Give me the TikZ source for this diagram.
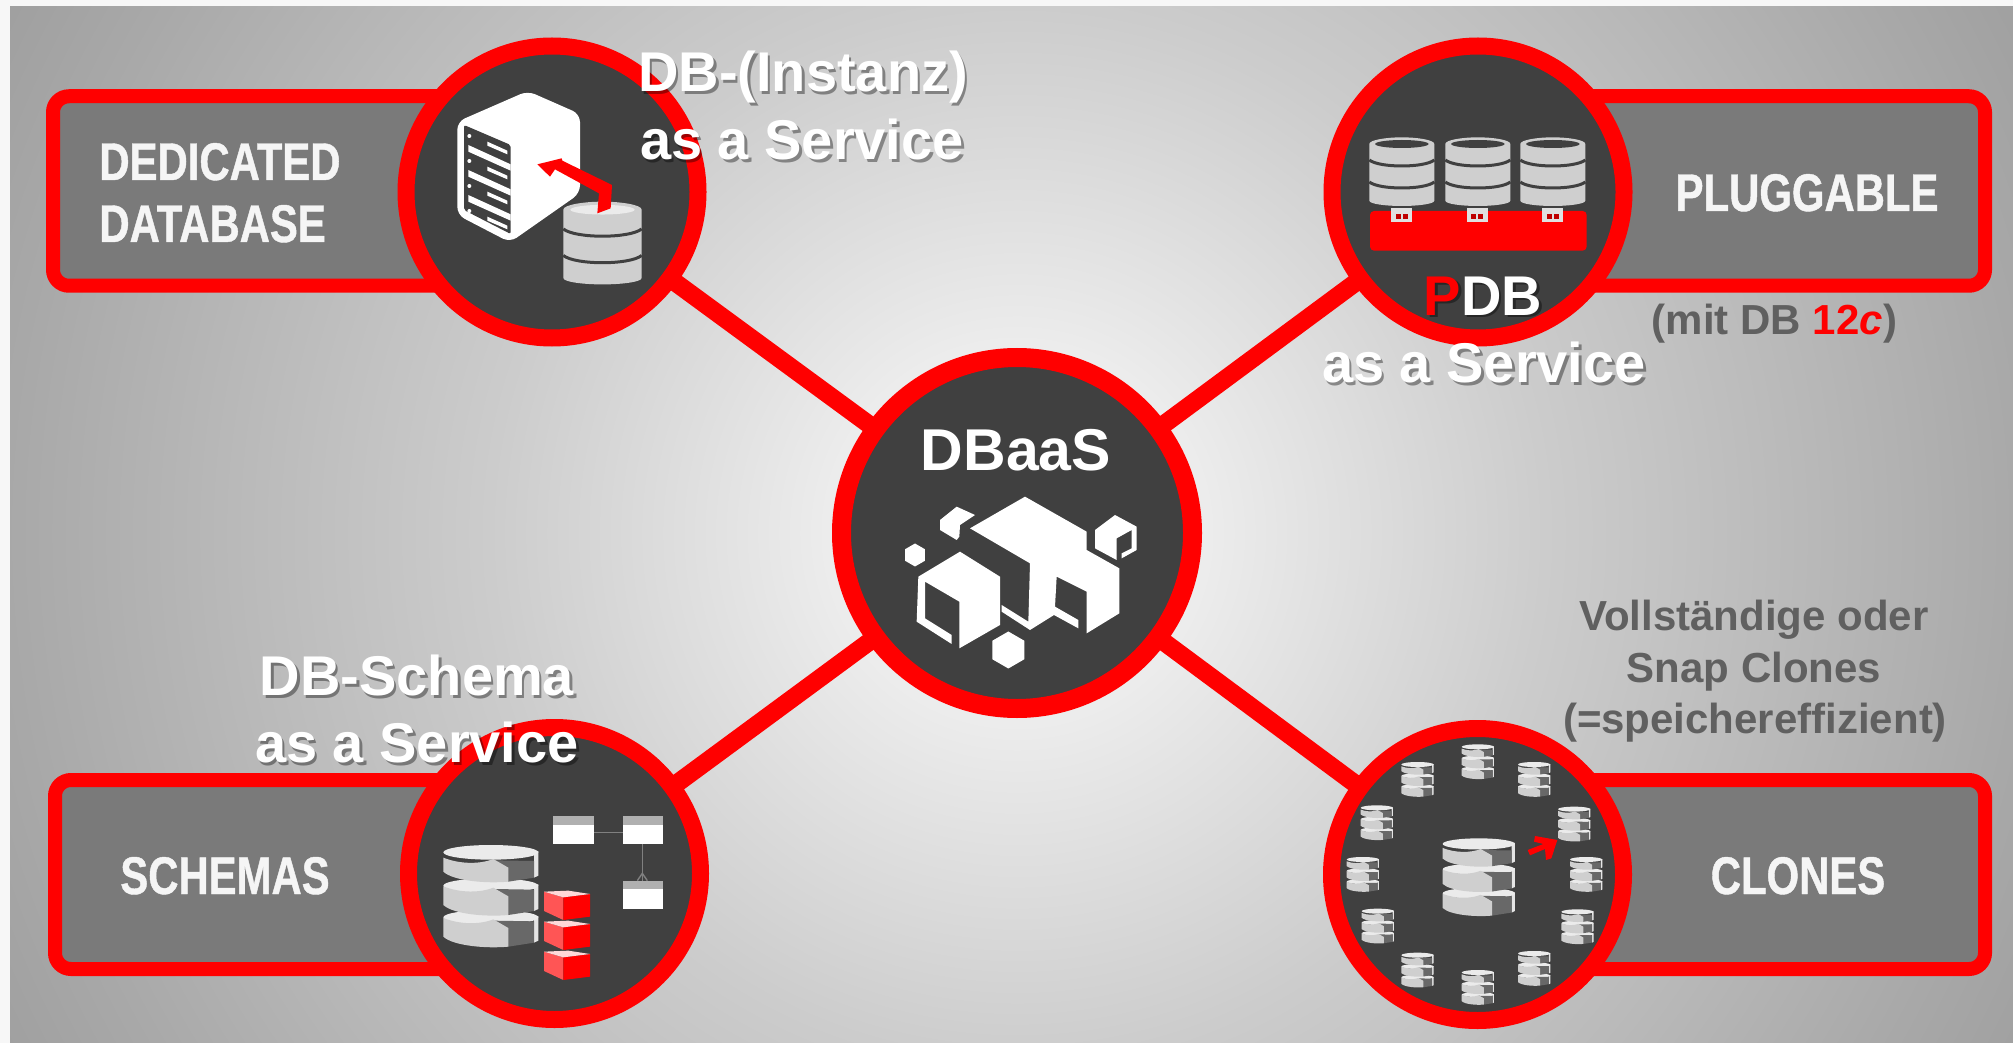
\documentclass[tikz,border=0pt]{standalone}
\usepackage{fontspec}
\setmainfont{Liberation Sans}
\newfontfamily\condfont[FakeStretch=0.79,BoldFeatures={FakeBold=0.8}]{Liberation Sans}
\usetikzlibrary{shapes.geometric}
\pgfdeclarelayer{back}
\pgfsetlayers{back,main}
\pgfdeclareradialshading{bgrad}{\pgfpoint{0bp}{0bp}}{gray(0bp)=(.95);gray(4bp)=(.925);gray(11bp)=(.80);gray(21bp)=(.66);gray(25bp)=(.61)}
\definecolor{hubdark}{HTML}{404040}
\definecolor{panelgray}{HTML}{7A7A7A}
\definecolor{dbgray}{HTML}{CFCFCF}
\definecolor{notchgray}{HTML}{686868}
\definecolor{textgray}{HTML}{606060}
\definecolor{pagewhite}{HTML}{F7F7F7}
\definecolor{redlight}{HTML}{FF5555}
\definecolor{hdrgray}{HTML}{B0B0B0}
\tikzset{
  hubnode/.style={circle,draw=red,fill=hubdark,line width=9.5pt,minimum size=175.5pt,inner sep=0pt},
  corner/.style={circle,draw=red,fill=hubdark,line width=8.5pt,minimum size=146pt,inner sep=0pt},
  panel/.style={rectangle,draw=red,fill=panelgray,line width=7pt,rounded corners=8pt,inner sep=0pt},
  conn/.style={draw=red,line width=9pt,shorten <=-2pt,shorten >=-2pt},
  paneltext/.style={text=white!96!black,anchor=base,inner sep=0pt,font=\condfont\bfseries\fontsize{26.5}{26.5}\selectfont},
  titletext/.style={anchor=base,inner sep=0pt,font=\bfseries\fontsize{28}{28}\selectfont},
  notetext/.style={text=textgray,anchor=base,inner sep=0pt,font=\bfseries\fontsize{21}{21}\selectfont},
}
\newcommand\hlred[1]{\textcolor{red}{#1}}
% white title with a soft shadow
\newcommand\titlelabel[4]{%
  \node[titletext,text=black,opacity=.38] (#1s) at (#2+2.5,#3+3) {\def\hlred##1{##1}#4};
  \node[titletext,text=white] (#1) at (#2,#3) {#4};
}
% cylinder with two bands, unit box 195 x 206
\newcommand\dbcyl[4]{%
  \begin{scope}[shift={(#1,#2)},scale=#3]
    \fill[dbgray] (0,20) -- (0,190) .. controls (0,200) and (50,206) .. (97.5,206) .. controls (145,206) and (195,200) .. (195,190) -- (195,20) .. controls (195,8) and (145,0) .. (97.5,0) .. controls (50,0) and (0,8) .. (0,20) -- cycle;
    \fill[#4] (97.5,20) ellipse [x radius=80,y radius=12];
    \draw[hubdark,line width=1.5pt] (0,68) .. controls (30,92) and (165,92) .. (195,68);
    \draw[hubdark,line width=1.5pt] (0,134) .. controls (30,158) and (165,158) .. (195,134);
  \end{scope}}
% cylinder with a cut-out slice, unit box 285 x 310
\newcommand\slicedb[3]{%
  \begin{scope}[shift={(#1,#2)},scale=#3]
    \foreach \d/\t in {195/0,100/0,0/14}{
      \fill[white!90!black] (272,\d+18) -- (285,\d+18) -- (285,\d+92) -- (272,\d+98) -- cycle;
      \fill[white!92!black] (142.5,\d+22) ellipse [x radius=142.5,y radius=22];
      \fill[notchgray] (150,\d+32+\t) -- (272,\d+34+\t) -- (272,\d+98) -- (195,\d+110) -- cycle;
      \fill[dbgray] (0,\d+24+\t) .. controls (50,\d+44+\t) and (110,\d+44+\t) .. (150,\d+28+\t) -- (195,\d+54+\t) -- (195,\d+110) .. controls (130,\d+116) and (30,\d+108) .. (0,\d+80) -- cycle;
    }
  \end{scope}}
\begin{document}
\begin{tikzpicture}[x=0.5pt,y=-0.5pt]
\useasboundingbox (0,0) rectangle (2013,1043);
% circles
\node[hubnode] (hub) at (1017,533) {};
\node[corner] (c1) at (552,192) {};
\node[corner] (c2) at (1478,192) {};
\node[corner] (c3) at (554.5,873.5) {};
\node[corner] (c4) at (1477.5,874.5) {};
\begin{pgfonlayer}{back}
  \fill[pagewhite] (0,0) rectangle (2013,1043);
  \begin{scope}
    \clip (10,7) rectangle (2013,1043);
    \shade[shading=bgrad] (-183,-667) rectangle (2217,1733);
  \end{scope}
  \node[panel,minimum width=260pt,minimum height=94.75pt] (p1) at (313,191) {};
  \node[panel,minimum width=260pt,minimum height=94.75pt] (p2) at (1725,191) {};
  \node[panel,minimum width=258pt,minimum height=94.5pt] (p3) at (313,874.5) {};
  \node[panel,minimum width=260pt,minimum height=94.5pt] (p4) at (1725,874.5) {};
  \draw[conn] (hub) -- (c1);
  \draw[conn] (hub) -- (c2);
  \draw[conn] (hub) -- (c3);
  \draw[conn] (hub) -- (c4);
\end{pgfonlayer}

% === dedicated database icon (zoom coordinates)
\begin{scope}[shift={(400,30)},scale=.33333]
  \fill[white,rounded corners=4pt] (383,183) -- (540,252) -- (540,490) -- (330,637) -- (172,555) -- (172,275) -- cycle;
  \fill[hubdark,rounded corners=1pt] (192,285) -- (332,345) -- (332,612) -- (192,540) -- cycle;
  \foreach \k in {0,75,150}{
    \fill[white] (205,345+\k) -- (332,403+\k) -- (332,422+\k) -- (205,365+\k) -- cycle;
  }
  \foreach \k in {0,75,150,225}{
    \fill[white] (208,318+\k) circle [radius=6];
    \fill[white] (262,335+\k) -- (322,362+\k) -- (322,373+\k) -- (262,347+\k) -- cycle;
  }
  \dbcyl{490}{515}{1.205}{white!92!black}
  \fill[red] (592,550) -- (632,535) -- (636,465) -- (487,392) -- (485,385) -- (412,403) -- (450,440) -- (465,418) -- (597,490) -- cycle;
\end{scope}

% === pluggable icon
\begin{scope}[shift={(1320,30)},scale=.33333]
  \dbcyl{148}{322}{1}{hubdark}
  \dbcyl{376}{322}{1}{hubdark}
  \dbcyl{601}{322}{1}{hubdark}
  \fill[red,rounded corners=2pt] (150,543) rectangle (800,662);
  \foreach \u in {245,472,698}{
    \fill[white!88!black] (\u-31,535) rectangle (\u+31,577);
    \fill[red!75!black] (\u-18,552) rectangle (\u-3,568);
    \fill[red!75!black] (\u+3,552) rectangle (\u+18,568);
  }
\end{scope}

% === schemas icon
\begin{scope}[shift={(390,710)},scale=.33333]
  \slicedb{160}{405}{1}
  \foreach \s in {0,90,180}{
    \fill[redlight] (462,545+\s) -- (520,562+\s) -- (520,630+\s) -- (462,603+\s) -- cycle;
    \fill[red] (520,562+\s) -- (600,552+\s) -- (600,620+\s) -- (520,630+\s) -- cycle;
    \fill[red!15!white] (462,545+\s) -- (535,542+\s) -- (600,552+\s) -- (520,562+\s) -- cycle;
  }
  \foreach \tx/\ty in {490/318,698/318,698/512}{
    \fill[white] (\tx,\ty) rectangle (\tx+122,\ty+84);
    \fill[hdrgray] (\tx,\ty) rectangle (\tx+122,\ty+26);
  }
  \draw[gray,line width=.7pt] (612,368) -- (698,368);
  \draw[gray,line width=.7pt] (757,402) -- (757,512);
  \draw[gray,line width=.7pt] (742,512) -- (757,490) -- (772,512);
\end{scope}

% === clones icon
\begin{scope}[shift={(1310,710)},scale=.33333]
  \slicedb{398}{385}{.76}
  \foreach \cx/\cy in {503/155,672/208,792/342,828/493,802/650,672/775,503/832,322/780,203/648,158/493,200/338,322/208}{
    \slicedb{\cx-48}{\cy-52}{.34}
  }
  \fill[red] (742,390) -- (675,378) -- (672,395) -- (700,402) -- (653,420) -- (660,436) -- (705,417) -- (708,450) -- (724,445) -- cycle;
\end{scope}

% === hub icon
\begin{scope}[shift={(800,320)},scale=.33333]
  % big block
  \fill[white] (510,625) -- (675,530) -- (860,635) -- (860,690) -- (958,745) -- (958,880) -- (860,940) -- (860,815) -- (770,770) -- (765,860) -- (835,900) -- (835,925) -- (762,885) -- (690,930) -- (605,875) -- (605,855) -- (685,905) -- (690,730) -- cycle;
  % front-left cube
  \fill[white] (355,770) -- (480,695) -- (600,770) -- (600,915) -- (478,985) -- (478,845) -- (375,785) -- (375,895) -- (455,945) -- (455,972) -- (350,905) -- cycle;
  % small cube, top left
  \fill[white] (420,600) -- (470,560) -- (525,585) -- (480,615) -- (478,650) -- (470,660) -- (420,630) -- cycle;
  % small cube, top right
  \fill[white] (885,630) -- (945,585) -- (1010,620) -- (1010,690) -- (965,715) -- (965,700) -- (995,685) -- (995,630) -- (950,655) -- (950,720) -- (885,685) -- cycle;
  \node[regular polygon,regular polygon sides=6,shape border rotate=30,fill=white,inner sep=0pt,minimum size=11.5pt] (hexa) at (345,705) {};
  \node[regular polygon,regular polygon sides=6,shape border rotate=30,fill=white,inner sep=0pt,minimum size=18.5pt] (hexb) at (625,990) {};
\end{scope}

% === labels
\node[paneltext,anchor=base west] (t1a) at (99,180) {DEDICATED};
\node[paneltext,anchor=base west] (t1b) at (99,242) {DATABASE};
\node[paneltext] (t2) at (1807,211) {PLUGGABLE};
\node[paneltext] (t3) at (225,894) {SCHEMAS};
\node[paneltext] (t4) at (1798,894) {CLONES};
\node[anchor=base,inner sep=0pt,text=white,font=\bfseries\fontsize{29.5}{29.5}\selectfont] (t5) at (1016,470) {DBaaS};

\titlelabel{a1}{803}{92}{DB-(Instanz)}
\titlelabel{a2}{802}{160}{as a Service}
\titlelabel{b1}{1483}{315}{\hlred{P}DB}
\titlelabel{b2}{1484}{382}{as a Service}
\titlelabel{d1}{417}{695}{DB-Schema}
\titlelabel{d2}{417}{762}{as a Service}

\node[notetext] (n1) at (1774.5,335) {(mit DB \textcolor{red}{12\textit{c}})};
\node[notetext] (n2) at (1754,630) {Vollständige oder};
\node[notetext] (n3) at (1754,682) {Snap Clones};
\node[notetext] (n4) at (1755,733) {(=speichereffizient)};
\end{tikzpicture}
\end{document}
